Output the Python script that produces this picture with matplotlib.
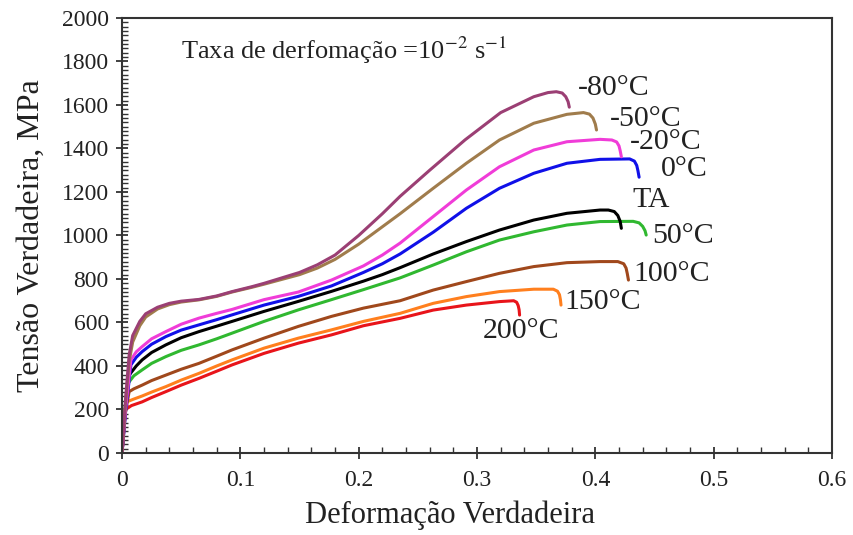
import matplotlib
matplotlib.use("Agg")
import matplotlib.pyplot as plt
from matplotlib.ticker import MultipleLocator

plt.rcParams['font.family'] = ['Liberation Serif', 'DejaVu Serif']
plt.rcParams['mathtext.fontset'] = 'stix'

# curvas tensao x deformacao
eps_m80 = [0, 0.003, 0.006, 0.009, 0.015, 0.02, 0.03, 0.04, 0.05, 0.065, 0.08, 0.093, 0.11, 0.12, 0.135,
           0.15, 0.165, 0.18, 0.2, 0.22, 0.235, 0.26, 0.29, 0.32, 0.348, 0.36, 0.367, 0.372, 0.375, 0.377, 0.378]
sig_m80 = [0, 250, 450, 540, 605, 640, 670, 688, 698, 706, 722, 742, 765, 780, 805,
           830, 865, 910, 1000, 1100, 1180, 1300, 1440, 1565, 1638, 1657, 1661, 1655, 1638, 1615, 1590]

eps_m50 = [0, 0.003, 0.006, 0.009, 0.015, 0.02, 0.03, 0.04, 0.05, 0.065, 0.08, 0.093, 0.11, 0.12, 0.135,
           0.15, 0.165, 0.18, 0.2, 0.22, 0.235, 0.263, 0.291, 0.319, 0.348, 0.376, 0.39, 0.395, 0.398, 0.4, 0.401]
sig_m50 = [0, 230, 420, 510, 585, 625, 662, 682, 694, 704, 720, 740, 762, 776, 798,
           820, 850, 890, 960, 1040, 1100, 1217, 1332, 1439, 1516, 1557, 1565, 1558, 1540, 1512, 1485]

eps_m20 = [0, 0.003, 0.0075, 0.012, 0.017, 0.025, 0.037, 0.05, 0.065, 0.08, 0.093, 0.12, 0.149, 0.177,
           0.204, 0.22, 0.235, 0.263, 0.291, 0.319, 0.348, 0.376, 0.404, 0.414, 0.418, 0.42, 0.421, 0.422]
sig_m20 = [0, 200, 428, 465, 489, 525, 558, 592, 620, 642, 660, 705, 740, 795,
           860, 910, 965, 1087, 1209, 1316, 1393, 1431, 1442, 1439, 1430, 1412, 1390, 1362]

eps_0 = [0, 0.003, 0.0075, 0.012, 0.017, 0.025, 0.037, 0.05, 0.065, 0.08, 0.093, 0.12, 0.149, 0.177,
         0.204, 0.22, 0.235, 0.263, 0.291, 0.319, 0.348, 0.376, 0.404, 0.429, 0.433, 0.435, 0.436, 0.437]
sig_0 = [0, 190, 405, 440, 466, 500, 535, 565, 589, 613, 635, 680, 720, 768,
         830, 870, 915, 1015, 1125, 1217, 1286, 1332, 1350, 1352, 1342, 1322, 1298, 1268]

eps_ta = [0, 0.003, 0.006, 0.012, 0.017, 0.025, 0.037, 0.05, 0.065, 0.08, 0.093, 0.12, 0.149, 0.177,
          0.204, 0.22, 0.235, 0.263, 0.291, 0.319, 0.348, 0.376, 0.404, 0.411, 0.416, 0.419, 0.421, 0.422]
sig_ta = [0, 200, 358, 400, 428, 462, 497, 530, 558, 583, 605, 651, 697, 743,
          790, 820, 852, 915, 972, 1025, 1071, 1102, 1117, 1117, 1110, 1092, 1065, 1033]

eps_50 = [0, 0.002, 0.005, 0.01, 0.017, 0.025, 0.037, 0.05, 0.065, 0.08, 0.093, 0.12, 0.149, 0.177,
          0.204, 0.235, 0.263, 0.291, 0.319, 0.348, 0.376, 0.404, 0.432, 0.437, 0.44, 0.442, 0.443]
sig_50 = [0, 180, 320, 355, 382, 412, 443, 472, 497, 525, 551, 605, 658, 705,
          751, 805, 864, 925, 979, 1017, 1048, 1064, 1065, 1058, 1042, 1022, 1002]

eps_100 = [0, 0.002, 0.006, 0.01, 0.017, 0.025, 0.037, 0.05, 0.065, 0.08, 0.093, 0.12, 0.149, 0.177,
           0.204, 0.235, 0.263, 0.291, 0.319, 0.348, 0.376, 0.404, 0.419, 0.424, 0.426, 0.427, 0.428]
sig_100 = [0, 160, 282, 295, 312, 333, 358, 385, 412, 445, 474, 528, 582, 628,
           666, 700, 749, 788, 826, 857, 875, 880, 880, 870, 850, 825, 795]

eps_150 = [0, 0.002, 0.004, 0.01, 0.017, 0.025, 0.037, 0.05, 0.065, 0.08, 0.093, 0.12, 0.149, 0.177,
           0.204, 0.235, 0.263, 0.291, 0.319, 0.348, 0.3645, 0.368, 0.3697, 0.3705, 0.371]
sig_150 = [0, 150, 235, 248, 262, 280, 305, 335, 366, 400, 428, 482, 528, 566,
           605, 642, 688, 719, 742, 753, 753, 744, 728, 705, 680]

eps_200 = [0, 0.0015, 0.003, 0.008, 0.017, 0.025, 0.037, 0.05, 0.065, 0.08, 0.093, 0.12, 0.149, 0.177,
           0.204, 0.235, 0.263, 0.291, 0.319, 0.331, 0.3335, 0.3348, 0.3356, 0.336]
sig_200 = [0, 120, 200, 218, 235, 255, 282, 312, 343, 376, 405, 458, 505, 543,
           585, 619, 657, 680, 696, 700, 693, 678, 658, 634]

labels = ["-80°C", "-50°C", "-20°C", "0°C", "TA", "50°C", "100°C", "150°C", "200°C"]
colors = ["#9B3F74", "#A07C4C", "#F03CD8", "#1010E8", "#000000", "#30B830", "#A0481C", "#FF7F1E", "#E8141A"]
curves = [(eps_m80, sig_m80), (eps_m50, sig_m50), (eps_m20, sig_m20), (eps_0, sig_0), (eps_ta, sig_ta),
          (eps_50, sig_50), (eps_100, sig_100), (eps_150, sig_150), (eps_200, sig_200)]
# onde fica o rotulo de cada curva (x, y em unidades dos eixos de dados)
label_pos = [(0.385, 1678), (0.412, 1535), (0.429, 1430), (0.455, 1306), (0.431, 1163),
             (0.448, 998), (0.432, 823), (0.374, 694), (0.305, 561)]

fig = plt.figure(figsize=(8.54, 5.35), dpi=100)
ax = fig.add_axes([0.1429, 0.1533, 0.8313, 0.8131])

# desenha de baixo pra cima, a mais fria por cima
for (e, s), c in zip(curves[::-1], colors[::-1]):
    ax.plot(e, s, color=c, lw=2.2, solid_capstyle='round', solid_joinstyle='round')

for l, (x, y) in zip(labels, label_pos):
    ax.text(x, y, l, fontsize=21.5, va='center', ha='left', color='#222222')

ax.text(0.05, 1850, "Taxa de derfomação =10$^{-2}$ s$^{-1}$", fontsize=19, va='center', color='#222222')

ax.set_xlim(0, 0.6)
ax.set_ylim(0, 2000)
ax.xaxis.set_major_locator(MultipleLocator(0.1))
ax.xaxis.set_minor_locator(MultipleLocator(0.02))
ax.yaxis.set_major_locator(MultipleLocator(200))
ax.yaxis.set_minor_locator(MultipleLocator(20))
ax.xaxis.set_major_formatter(plt.FuncFormatter(lambda v, p: "0" if abs(v) < 1e-9 else "%.1f" % v))

ax.tick_params(which='major', direction='inout', length=9, width=1.3, labelsize=17, colors='#333333',
               labelcolor='#222222')
ax.tick_params(axis='x', which='major', pad=8)
ax.tick_params(axis='y', which='major', pad=5)
ax.tick_params(which='minor', direction='in', length=4, width=1.0, colors='#333333')
for sp in ax.spines.values():
    sp.set_linewidth(1.5)
    sp.set_color('#333333')

ax.set_xlabel("Deformação Verdadeira", fontsize=22, color='#222222')
ax.set_ylabel("Tensão Verdadeira, MPa", fontsize=23, color='#222222')
ax.xaxis.set_label_coords(0.462, -0.11)
ax.yaxis.set_label_coords(-0.108, 0.5)

fig.savefig("out.png", dpi=100)
